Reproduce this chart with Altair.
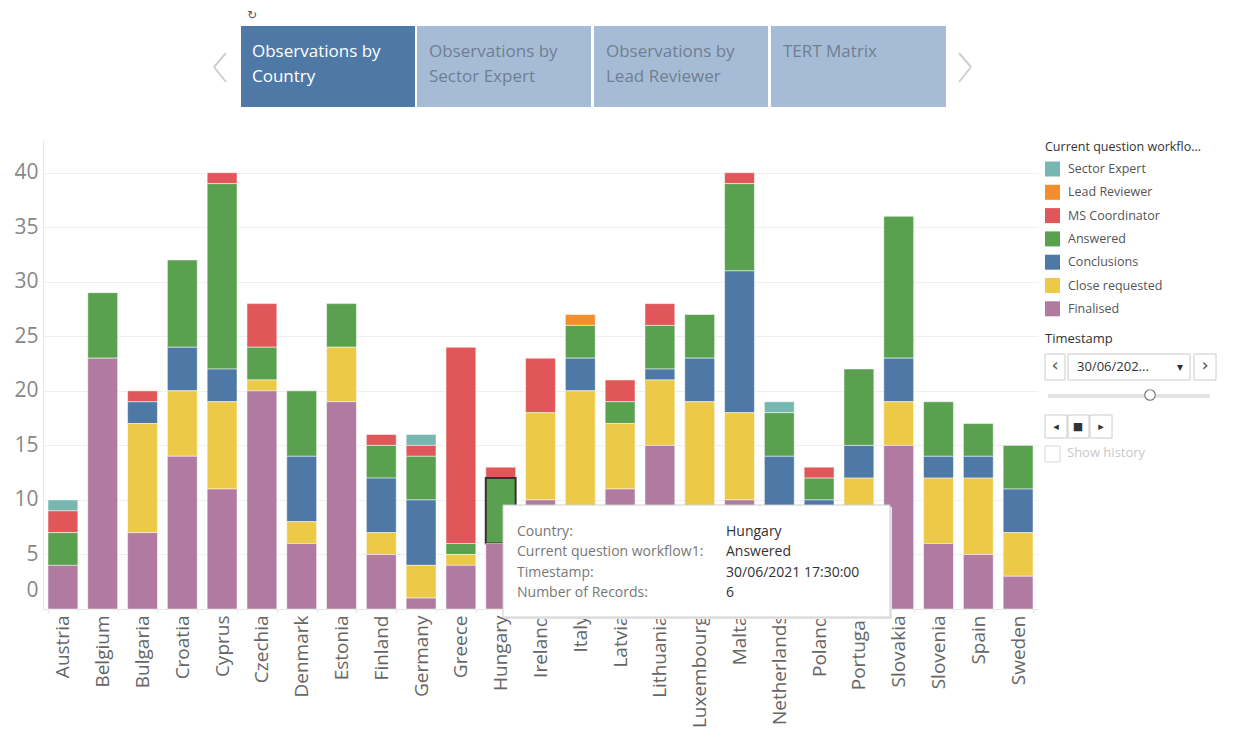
import altair as alt
import pandas as pd

countries = ["Austria", "Belgium", "Bulgaria", "Croatia", "Cyprus", "Czechia", "Denmark",
             "Estonia", "Finland", "Germany", "Greece", "Hungary", "Ireland", "Italy",
             "Latvia", "Lithuania", "Luxembourg", "Malta", "Netherlands", "Poland",
             "Portugal", "Slovakia", "Slovenia", "Spain", "Sweden"]

statuses = ["Sector Expert", "Lead Reviewer", "MS Coordinator", "Answered",
            "Conclusions", "Close requested", "Finalised"]
colors = ["#76b7b2", "#f28e2b", "#e15759", "#59a14f", "#4e79a7", "#edc948", "#b07aa1"]

sector_expert   = [1, 0, 0, 0, 0, 0, 0, 0, 0, 1, 0, 0, 0, 0, 0, 0, 0, 0, 1, 0, 0, 0, 0, 0, 0]
lead_reviewer   = [0, 0, 0, 0, 0, 0, 0, 0, 0, 0, 0, 0, 0, 1, 0, 0, 0, 0, 0, 0, 0, 0, 0, 0, 0]
ms_coordinator  = [2, 0, 1, 0, 1, 4, 0, 0, 1, 1, 18, 1, 5, 0, 2, 2, 0, 1, 0, 1, 0, 0, 0, 0, 0]
answered        = [3, 6, 0, 8, 17, 3, 6, 4, 3, 4, 1, 6, 0, 3, 2, 4, 4, 8, 4, 2, 7, 13, 5, 3, 4]
conclusions     = [0, 0, 2, 4, 3, 0, 6, 0, 5, 6, 0, 0, 0, 3, 0, 1, 4, 13, 6, 1, 3, 4, 2, 2, 4]
close_requested = [0, 0, 10, 6, 8, 1, 2, 5, 2, 3, 1, 0, 8, 12, 6, 6, 12, 8, 0, 0, 4, 4, 6, 7, 4]
finalised       = [4, 23, 7, 14, 11, 20, 6, 19, 5, 1, 4, 6, 10, 8, 11, 15, 7, 10, 8, 9, 8, 15, 6, 5, 3]

series = [sector_expert, lead_reviewer, ms_coordinator, answered,
          conclusions, close_requested, finalised]

rows = []
for s_i, (name, vals) in enumerate(zip(statuses, series)):
    for c, v in zip(countries, vals):
        if v > 0:
            rows.append({"Country": c, "Status": name, "Records": v,
                         "Rank": len(statuses) - 1 - s_i})
df = pd.DataFrame(rows)

OX, OY = 43, 140
FONT = "Open Sans"
ONE = alt.Data(values=[{"k": 0}])


def txt(s, x, y, size=13, color="#333", align="left", font=FONT, weight="normal"):
    return alt.Chart(ONE).mark_text(text=s, align=align, baseline="middle", fontSize=size,
                                    color=color, font=font, fontWeight=weight).encode(
        x=alt.value(x - OX), y=alt.value(y - OY))


def rect(x1, y1, x2, y2, fill, stroke=None, sw=1):
    kw = {"fill": fill}
    if stroke:
        kw["stroke"] = stroke
        kw["strokeWidth"] = sw
    return alt.Chart(ONE).mark_rect(**kw).encode(
        x=alt.value(x1 - OX), x2=alt.value(x2 - OX),
        y=alt.value(y1 - OY), y2=alt.value(y2 - OY))


def rule(x1, y1, x2, y2, color="#ccc", sw=1.5):
    return alt.Chart(ONE).mark_rule(color=color, strokeWidth=sw).encode(
        x=alt.value(x1 - OX), x2=alt.value(x2 - OX),
        y=alt.value(y1 - OY), y2=alt.value(y2 - OY))


pred = "datum.Country == 'Hungary' && datum.Status == 'Answered'"

bars = alt.Chart(df).mark_bar().encode(
    x=alt.X("Country:N", sort=countries,
            scale=alt.Scale(paddingInner=0.25, paddingOuter=0.125),
            axis=alt.Axis(title=None, labelAngle=270, labelFontSize=19, labelColor="#666",
                          labelFont=FONT, domain=True, domainColor="#e6e6e6",
                          ticks=True, tickBand="extent", tickColor="#e6e6e6", tickSize=4,
                          labelPadding=2)),
    y=alt.Y("Records:Q", stack="zero",
            scale=alt.Scale(domain=[0, 43], nice=False),
            axis=alt.Axis(title=None, values=[0, 5, 10, 15, 20, 25, 30, 35, 40],
                          ticks=False, domain=True, domainColor="#e6e6e6",
                          gridColor="#efefef", labelFontSize=21, labelColor="#888",
                          labelFont=FONT, labelPadding=5, labelFlush=True,
                          labelFlushOffset=-9)),
    color=alt.Color("Status:N", scale=alt.Scale(domain=statuses, range=colors),
                    legend=alt.Legend(orient="none", legendX=1002, legendY=1,
                                      title="Current question workflo...",
                                      titleFont=FONT, titleFontSize=12.5,
                                      titleFontWeight="normal", titleColor="#333",
                                      titlePadding=8,
                                      labelFont=FONT, labelFontSize=12.5, labelColor="#555",
                                      symbolType="square", symbolSize=225,
                                      symbolStrokeWidth=0, rowPadding=8.3, labelOffset=8)),
    order=alt.Order("Rank:Q", sort="ascending"),
    stroke=alt.condition(pred, alt.value("#333"), alt.value("#ffffff")),
    strokeWidth=alt.condition(pred, alt.value(2), alt.value(0.5)),
)

layers = [bars]

# Tabs
layers += [
    rect(241, 26, 415, 107, "#4e79a7"),
    rect(417, 26, 591, 107, "#a6bcd6"),
    rect(594, 26, 768, 107, "#a6bcd6"),
    rect(771, 26, 946, 107, "#a6bcd6"),
    txt("Observations by", 252, 52, 17, "#ffffff"),
    txt("Country", 252, 77, 17, "#ffffff"),
    txt("Observations by", 429, 52, 17, "#6f7f92"),
    txt("Sector Expert", 429, 77, 17, "#6f7f92"),
    txt("Observations by", 606, 52, 17, "#6f7f92"),
    txt("Lead Reviewer", 606, 77, 17, "#6f7f92"),
    txt("TERT Matrix", 783, 52, 17, "#6f7f92"),
    rule(226, 53, 214, 67, "#cfcfcf", 2), rule(214, 67, 226, 82, "#cfcfcf", 2),
    rule(959, 53, 971, 67, "#cfcfcf", 2), rule(971, 67, 959, 82, "#cfcfcf", 2),
    txt("↻", 252, 15, 12, "#555", "center", "DejaVu Sans"),
]

# Timestamp widget
layers += [
    txt("Timestamp", 1045, 339, 13, "#333"),
    rect(1045, 354, 1065, 380, "#ffffff", "#cccccc"),
    rect(1068, 354, 1190, 380, "#ffffff", "#cccccc"),
    rect(1194, 354, 1216, 380, "#ffffff", "#cccccc"),
    txt("‹", 1055, 366, 18, "#555", "center", "DejaVu Sans"),
    txt("›", 1205, 366, 18, "#555", "center", "DejaVu Sans"),
    txt("30/06/202...", 1077, 367, 13, "#333"),
    txt("▾", 1180, 367, 12, "#333", "center", "DejaVu Sans"),
    rule(1048, 396, 1210, 396, "#e3e3e3", 4),
    alt.Chart(ONE).mark_point(shape="circle", size=110, filled=True, fill="#ffffff",
                              stroke="#777777", strokeWidth=1.2, opacity=1).encode(
        x=alt.value(1150 - OX), y=alt.value(395 - OY)),
    rect(1045, 415, 1067, 438, "#ffffff", "#cccccc"),
    rect(1068, 415, 1089, 438, "#ffffff", "#cccccc"),
    rect(1090, 415, 1112, 438, "#ffffff", "#cccccc"),
    txt("◂", 1056, 427, 11, "#333", "center", "DejaVu Sans"),
    txt("■", 1078, 427, 11, "#333", "center", "DejaVu Sans"),
    txt("▸", 1101, 427, 11, "#333", "center", "DejaVu Sans"),
    rect(1045, 446, 1060, 462, "#ffffff", "#d8d8d8"),
    txt("Show history", 1067, 453, 13, "#c8c8c8"),
]

# Tooltip
layers += [
    rect(505, 507, 892, 619, "#e4e4e4"),
    rect(503, 505, 890, 617, "#ffffff", "#cfcfcf"),
    txt("Country:", 517, 532, 14, "#777"),
    txt("Current question workflow1:", 517, 552, 14, "#777"),
    txt("Timestamp:", 517, 573, 14, "#777"),
    txt("Number of Records:", 517, 593, 14, "#777"),
    txt("Hungary", 726, 532, 14, "#333"),
    txt("Answered", 726, 552, 14, "#333"),
    txt("30/06/2021 17:30:00", 726, 573, 14, "#333"),
    txt("6", 726, 593, 14, "#333"),
]

chart = alt.layer(*layers).properties(
    width=995, height=469,
    autosize=alt.AutoSizeParams(type="none"),
    padding={"left": OX, "top": OY, "right": 197, "bottom": 133},
).configure_view(stroke=None)

chart.save("out.html", embed_options={"renderer": "svg", "actions": False})
